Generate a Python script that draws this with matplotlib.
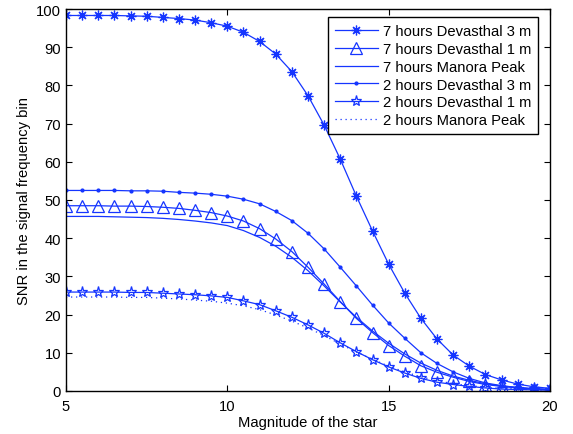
import matplotlib.pyplot as plt

plt.rcParams['font.family'] = ['Liberation Sans', 'DejaVu Sans']

mag = [5 + 0.5 * i for i in range(31)]

dev3_7h = [98.3, 98.3, 98.3, 98.3, 98.2, 98.1, 97.8, 97.5, 97.1, 96.4,
           95.5, 93.9, 91.5, 88.2, 83.6, 77.3, 69.6, 60.7, 51.0, 41.9,
           33.2, 25.6, 19.0, 13.6, 9.4, 6.5, 4.3, 2.9, 1.8, 1.1, 0.7]
dev1_7h = [48.5, 48.5, 48.5, 48.4, 48.4, 48.3, 48.1, 47.8, 47.3, 46.7,
           45.8, 44.5, 42.5, 39.8, 36.5, 32.4, 28.0, 23.4, 19.0, 15.3,
           11.9, 9.1, 6.6, 4.9, 3.6, 2.5, 1.7, 1.2, 0.8, 0.5, 0.3]
manora_7h = [45.7, 45.7, 45.7, 45.6, 45.5, 45.4, 45.2, 44.9, 44.5, 44.0,
             43.3, 42.0, 40.2, 37.9, 35.0, 31.5, 27.5, 23.3, 19.3, 15.7,
             12.5, 9.7, 7.3, 5.4, 3.9, 2.8, 1.9, 1.3, 0.9, 0.6, 0.4]
dev3_2h = [52.5, 52.5, 52.5, 52.5, 52.4, 52.4, 52.3, 52.0, 51.8, 51.5,
           51.0, 50.2, 49.0, 47.0, 44.6, 41.3, 37.2, 32.4, 27.5, 22.5,
           17.8, 13.8, 10.0, 7.2, 5.0, 3.3, 2.1, 1.4, 0.9, 0.6, 0.4]
dev1_2h = [25.9, 25.9, 25.9, 25.9, 25.8, 25.8, 25.6, 25.4, 25.2, 24.9,
           24.5, 23.6, 22.6, 21.0, 19.3, 17.3, 15.1, 12.6, 10.3, 8.2,
           6.3, 4.7, 3.3, 2.3, 1.7, 1.2, 0.8, 0.5, 0.4, 0.3, 0.2]
manora_2h = [24.6, 24.6, 24.6, 24.6, 24.5, 24.5, 24.3, 24.1, 23.8, 23.5,
             23.0, 22.3, 21.3, 19.9, 18.3, 16.5, 14.5, 12.3, 10.2, 8.3,
             6.5, 5.0, 3.7, 2.7, 1.9, 1.4, 1.0, 0.7, 0.5, 0.3, 0.2]

labels = ['7 hours Devasthal 3 m', '7 hours Devasthal 1 m', '7 hours Manora Peak',
          '2 hours Devasthal 3 m', '2 hours Devasthal 1 m', '2 hours Manora Peak']

c = '#1535ff'
fs = 10.6
fig = plt.figure(figsize=(5.73, 4.35), dpi=100)
ax = fig.add_axes([66 / 573, 43 / 435, 484 / 573, 382 / 435])

ax.plot(mag, dev3_7h, color=c, lw=0.9, marker=(8, 2, 0), ms=7, mew=0.9, label=labels[0])
ax.plot(mag, dev1_7h, color=c, lw=0.9, marker='^', ms=8, mfc='none', mew=0.9, label=labels[1])
ax.plot(mag, manora_7h, color=c, lw=0.9, label=labels[2])
ax.plot(mag, dev3_2h, color=c, lw=0.9, marker='.', ms=4, label=labels[3])
ax.plot(mag, dev1_2h, color=c, lw=0.9, marker='*', ms=8, mfc='none', mew=0.9, label=labels[4])
ax.plot(mag, manora_2h, color=c, lw=0.9, ls=(0, (1, 3)), label=labels[5])

ax.set_xlim(5, 20)
ax.set_ylim(0, 100)
ax.set_xticks([5, 10, 15, 20])
ax.set_yticks(range(0, 101, 10))
ax.tick_params(direction='in', top=True, right=True, labelsize=fs, length=4)
ax.tick_params(axis='x', pad=5.5)
for s in ax.spines.values():
    s.set_linewidth(1.0)
ax.set_xlabel('Magnitude of the star', fontsize=fs, labelpad=1.5)
ax.set_ylabel('SNR in the signal frequency bin', fontsize=fs, labelpad=4)

leg = ax.legend(loc='upper right', bbox_to_anchor=(0.975, 0.978), borderaxespad=0,
                fontsize=fs, frameon=True, fancybox=False, edgecolor='black',
                framealpha=1, handlelength=2.9, labelspacing=0.26, borderpad=0.45,
                handletextpad=0.35)
leg.get_frame().set_linewidth(1.0)

fig.savefig('out.png', dpi=100)
